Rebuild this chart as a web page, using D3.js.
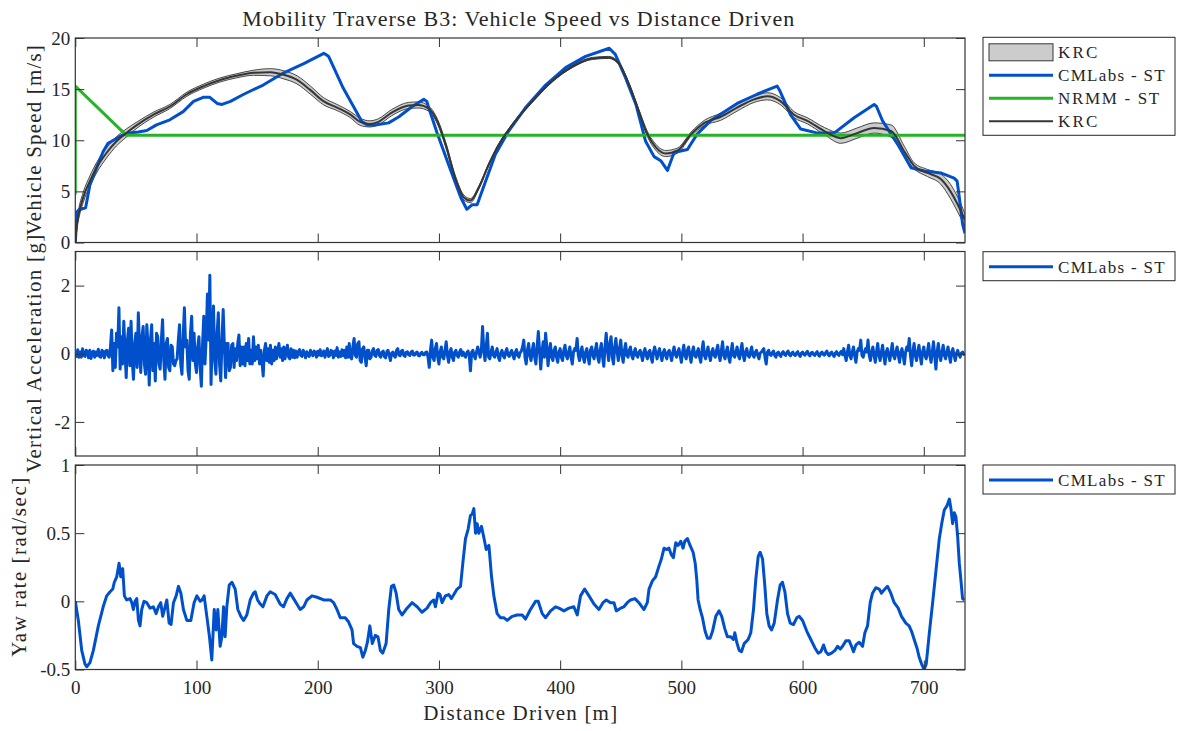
<!DOCTYPE html>
<html>
<head>
<meta charset="utf-8">
<script src="https://cdn.jsdelivr.net/npm/d3@7"></script>
<style>
  html, body { margin: 0; padding: 0; background: #ffffff; }
  svg { display: block; }
</style>
</head>
<body>
<svg id="chart" width="1177" height="731"></svg>
<script>
// ---------------- data ----------------
const xTicks = [0, 100, 200, 300, 400, 500, 600, 700];
const speedTicks = [0, 5, 10, 15, 20];
const accTicks = [-2, 0, 2];
const yawTicks = [-0.5, 0, 0.5, 1];

// KRC measured speed: mean and run-to-run envelope [m/s] vs distance [m]
const krcDist = [0,1,2.5,6.5,12,17.5,26,34,42,51,64.5,78,92,106,119.5,133,147,161,172,183,
  194,205,216,227,235,243,250,261,275,283,291.5,298.5,305.5,313.5,320.5,326,333,341,349.5,360.5,
  377,393.5,410,426.5,440,448.5,457,465,472,479,487,497,508,519,532.5,546,560,571,582,593,
  604,618,631.5,645,659,673,684,692,703,714,722,730.5,734];
const krcMean = [0,1.5,2.6,4.4,6.0,7.3,8.8,9.9,10.7,11.5,12.5,13.3,14.5,15.3,15.9,16.3,16.6,16.65,16.4,15.9,
  14.9,13.8,13.2,12.5,11.8,11.6,11.8,12.7,13.4,13.45,13.1,11.9,9.6,6.3,4.4,4.1,5.4,7.6,9.6,11.5,
  13.8,15.8,17.2,18.0,18.1,17.5,15.4,12.8,10.6,9.3,8.7,9.0,10.6,11.7,12.3,13.2,14.0,14.3,13.8,12.5,
  11.9,10.9,10.2,10.7,11.2,10.9,8.9,7.5,6.8,6.2,5.0,3.1,2.2];
const krcHigh = [0,2.0,3.1,4.9,6.5,7.8,9.3,10.35,11.1,11.8,12.75,13.5,14.7,15.5,16.1,16.5,16.85,17.0,16.8,16.3,
  15.3,14.15,13.5,12.8,12.15,11.9,12.1,13.0,13.7,13.75,13.35,12.15,9.85,6.55,4.65,4.3,5.55,7.7,9.7,11.6,
  13.9,15.9,17.3,18.1,18.2,17.6,15.55,13.0,10.85,9.6,9.0,9.25,10.8,11.95,12.65,13.55,14.3,14.65,14.15,12.8,
  12.2,11.25,10.7,11.2,11.7,11.5,9.4,7.8,7.15,6.7,5.7,3.8,2.8];
const krcLow = [0,1.0,2.1,3.9,5.5,6.8,8.3,9.45,10.3,11.2,12.25,13.1,14.3,15.1,15.7,16.1,16.35,16.3,16.0,15.5,
  14.5,13.45,12.9,12.2,11.45,11.3,11.5,12.4,13.1,13.15,12.85,11.65,9.35,6.05,4.15,3.9,5.25,7.5,9.5,11.4,
  13.7,15.7,17.1,17.9,18.0,17.4,15.25,12.6,10.35,9.0,8.4,8.75,10.4,11.45,11.95,12.85,13.7,13.95,13.45,12.2,
  11.6,10.55,9.7,10.2,10.7,10.3,8.4,7.2,6.45,5.7,4.3,2.4,1.6];

// CMLabs simulation speed [m/s]
const cmSpeedDist = [0,1.5,3,8.5,12,17.5,23,27,30,37,44,52,59,67,78,89,97.5,105.5,111,117,
  121,128,139,155,172,188.5,205,206.5,209,221,236.5,241,247.5,258.5,267,278,287.5,290,291.5,298.5,
  308,318,323,327.5,331.5,338.5,346.5,357.5,371.5,388,404.5,421,440.5,445.5,454,462.5,470.5,477.5,483,488.5,
  494,505,513,524,546,562.5,579,581,590,598.5,612.5,626,642.5,659,661,666,678.5,689.5,700.5,714,
  725,727.5,729,732,734];
const cmSpeed = [0,3.0,3.2,3.4,5.6,7.3,8.9,9.7,9.9,10.4,10.7,10.8,10.95,11.5,12.0,12.8,13.8,14.2,14.2,13.6,
  13.5,13.8,14.5,15.4,16.6,17.5,18.5,18.4,18.2,15.1,11.8,11.5,11.5,11.7,12.3,13.3,14.0,13.8,13.2,10.7,
  7.6,4.4,3.25,3.7,3.7,6.0,8.6,10.9,13.2,15.4,17.1,18.2,19.0,18.4,16.1,13.5,9.9,8.4,8.0,7.05,
  8.8,9.1,10.6,11.9,13.6,14.5,15.3,14.9,12.5,11.1,10.7,10.7,12.2,13.5,13.3,11.9,9.6,7.3,7.0,6.8,
  6.3,6.0,4.7,1.8,0.9];

// NRMM predicted speed [m/s]
const nrmmDist = [0, 0, 42, 734];
const nrmmSpeed = [4.7, 15.3, 10.5, 10.5];

// CMLabs vertical acceleration [g], one sample per accStep metres starting at 0 m
const accStep = 1;
const accValues = [
  // 0-29 m
  0,-0.08,0.12,-0.1,0.05,-0.1,0.15,-0.05,-0.08,0.1,0.06,-0.12,0.1,-0.14,0.04,0.08,-0.1,0.05,-0.05,0.13,
  -0.08,-0.1,0.1,0.06,-0.12,0.08,0.1,-0.06,-0.1,0.2,
  // 30-83 m
  0.7,-0.5,0.3,-0.4,0.6,0.2,1.35,-0.45,0.5,-0.3,0.95,0.1,-0.7,0.4,0.75,-0.35,0.95,-0.2,-0.75,0.3,
  0.6,-0.4,1.2,0.2,-0.55,0.5,0.8,-0.3,-0.6,0.85,0.2,-0.92,0.4,0.85,-0.5,0.3,-0.8,0.6,0.5,-0.3,
  -0.45,0.4,1.0,-0.2,-0.75,0.3,0.45,-0.4,-0.5,0.25,0.2,-0.3,-0.35,-0.2,
  // 84-129 m
  -0.15,0.4,0.85,-0.3,-0.6,0.5,1.35,0.2,0.4,-0.5,-0.75,0.6,1.1,-0.2,0.6,-0.3,-0.55,0.2,0.5,-0.4,
  -0.95,0.3,1.1,-0.3,0.5,1.75,0.4,2.3,-0.9,0.5,1.4,-0.2,-0.6,0.6,1.2,-0.3,-0.8,0.4,1.3,0.2,
  -0.7,0.3,0.3,-0.5,-0.4,0.25,
  // 130-181 m
  0.3,-0.4,0.15,-0.2,0.3,0.55,-0.35,0.2,-0.3,0.2,-0.35,0.3,-0.2,0.45,-0.3,0.1,-0.3,0.5,-0.2,0.2,
  -0.15,0.25,-0.3,0.1,-0.2,-0.65,0.1,0.3,-0.2,0.15,-0.25,0.25,-0.3,0.1,-0.2,0.2,-0.15,0.1,0.3,-0.1,
  0.15,-0.2,0.2,-0.15,0.1,0.25,-0.1,-0.15,0.15,-0.1,0.1,-0.12,
  // 182-225 m
  0.08,-0.1,0.05,0.12,-0.05,-0.08,0.1,0.03,-0.12,0.06,-0.04,-0.08,0.1,0.02,-0.06,0.08,0.05,-0.1,0.07,-0.04,
  0.12,-0.06,-0.04,0.08,-0.1,0.04,0.15,-0.08,-0.05,0.1,0.06,-0.12,0.08,-0.05,0.18,-0.1,0.05,-0.08,0.12,-0.06,
  0.1,-0.12,0.2,-0.1,
  // 226-243 m
  0.3,-0.1,-0.15,0.2,0.45,-0.05,-0.1,0.3,0.35,-0.2,-0.25,0.15,0.2,-0.1,-0.35,0.1,0.1,-0.15,
  // 244-291 m
  -0.1,0.08,0.15,-0.05,-0.08,0.1,0.12,-0.06,-0.1,0.05,0.08,-0.08,-0.12,0.06,0.1,-0.05,-0.2,0.02,0.05,-0.06,
  -0.1,0.1,0.15,-0.04,-0.06,0.08,0.1,-0.05,-0.08,0.04,0.06,-0.03,-0.05,0.05,0.08,-0.04,-0.04,0.03,0.05,-0.05,
  -0.06,0.02,0.04,-0.03,-0.03,0.04,0.05,-0.1,
  // 292-319 m
  -0.4,0.1,0.4,-0.1,-0.2,0.15,0.3,-0.1,-0.3,0.05,0.2,-0.1,-0.15,0.1,0.35,-0.05,-0.25,0.05,0.15,-0.1,
  -0.2,0.05,0.1,-0.05,-0.1,0.05,0.12,-0.05,
  // 320-341 m
  0.05,-0.05,-0.1,0.03,0.08,-0.05,-0.5,0.05,0.1,-0.05,-0.15,0.05,0.2,0.05,-0.1,0.1,0.8,0.1,-0.2,0.2,
  0.6,-0.1,
  // 342-369 m
  -0.15,0.05,0.2,-0.05,-0.1,0.05,0.15,-0.1,-0.2,0.02,0.1,-0.05,-0.12,0.05,0.15,-0.04,-0.08,0.03,0.1,-0.05,
  -0.15,0.04,0.12,-0.05,-0.1,0.03,0.08,0.2,
  // 370-395 m
  0.4,-0.1,-0.3,0.1,0.3,-0.05,-0.2,0.1,0.3,-0.1,-0.3,0.2,0.65,0.1,-0.45,0.05,0.35,-0.1,0.6,0.2,
  -0.35,0.05,0.3,-0.1,-0.2,0.1,
  // 396-431 m
  0.2,-0.1,-0.25,0.05,0.15,-0.1,-0.2,0.1,0.25,-0.05,-0.15,0.05,0.2,-0.1,-0.3,0.05,0.15,0.1,0.45,-0.05,
  -0.2,0.05,0.2,-0.1,-0.25,0.05,0.15,-0.1,-0.3,0.1,0.2,-0.05,-0.15,0.1,0.3,-0.1,
  // 432-461 m
  -0.25,0.1,0.3,-0.1,-0.37,0.2,0.6,0.1,-0.2,0.3,0.5,-0.1,-0.3,0.2,0.45,0.05,-0.2,0.15,0.4,-0.05,
  -0.25,0.1,0.3,-0.05,-0.1,0.1,0.2,-0.05,-0.15,0.05,
  // 462-557 m
  0.15,-0.05,-0.1,0.05,0.1,-0.05,-0.2,0.05,0.15,-0.05,-0.15,0.05,0.1,-0.1,-0.25,0.05,0.2,0.02,-0.15,0.05,
  0.15,-0.05,-0.2,0.03,0.12,-0.05,-0.15,0.05,0.1,-0.05,-0.2,0.05,0.2,-0.02,-0.1,0.05,0.15,-0.05,-0.25,0.05,
  0.25,-0.05,-0.15,0.1,0.2,-0.05,-0.25,0.05,0.2,-0.05,-0.1,0.05,0.15,-0.1,-0.25,0.1,0.35,-0.05,-0.15,0.05,
  0.2,-0.05,-0.2,0.05,0.15,-0.05,-0.1,0.1,0.25,-0.05,-0.2,0.1,0.35,-0.05,-0.15,0.05,0.2,-0.1,-0.25,0.05,
  0.3,-0.05,-0.1,0.05,0.2,-0.05,-0.15,0.1,0.3,-0.05,-0.2,0.05,0.15,-0.05,-0.1,0.05,
  // 558-593 m
  0.2,-0.05,-0.1,0.05,0.1,-0.05,-0.15,0.02,0.05,0.1,0.15,-0.1,-0.3,0.05,0.1,-0.02,-0.05,0.03,0.08,-0.05,
  -0.1,0.02,0.05,-0.03,-0.08,0.02,0.06,-0.02,-0.05,0.03,0.08,-0.02,-0.06,0.02,0.05,-0.03,
  // 594-633 m
  -0.05,0.02,0.06,-0.03,-0.08,0.02,0.05,-0.02,-0.04,0.03,0.07,-0.02,-0.06,0.02,0.04,-0.02,-0.05,0.02,0.06,-0.03,
  -0.07,0.02,0.05,-0.02,-0.04,0.03,0.08,-0.02,-0.06,0.02,0.05,-0.03,-0.08,0.02,0.06,-0.02,-0.05,0.03,0.07,-0.03,
  // 634-657 m
  0.15,-0.05,-0.2,0.05,0.25,-0.05,-0.15,0.05,0.2,-0.05,-0.25,0.05,0.15,0.1,0.4,-0.05,-0.1,0.05,0.15,0.05,
  0.4,-0.05,-0.2,0.05,
  // 658-734 m
  0.2,-0.05,-0.25,0.05,0.3,-0.05,-0.2,0.05,0.25,-0.05,-0.3,0.05,0.15,-0.05,-0.2,0.05,0.3,-0.05,-0.15,0.05,
  0.2,-0.05,-0.25,0.05,0.15,-0.05,-0.3,0.05,0.2,0.1,0.45,-0.05,-0.35,0.05,0.3,-0.05,-0.2,0.05,0.25,-0.05,
  -0.3,0.05,0.2,-0.05,-0.15,0.05,0.3,-0.05,-0.25,0.05,0.35,-0.05,-0.45,0.05,0.3,-0.05,-0.2,0.05,0.25,-0.05,
  -0.15,0.05,0.2,-0.05,-0.25,0.05,0.15,-0.05,-0.2,0.02,0.1,-0.03,-0.1,0.02,0.05,-0.02,0
];

// CMLabs yaw rate [rad/s]
const yawDist = [0,2.5,5.3,8,9.4,12.1,14.9,19,23,25.9,28.7,30.9,32.2,34.2,36.1,37.5,39.1,40.5,42.4,45.2,
  46.6,47.9,49.3,50.7,52.1,53.4,54.8,56.7,59,61.7,64.4,66.7,68.6,70.5,72.1,74.1,75.5,77.4,79,81,
  83.2,85.1,87.1,89.2,92,95.3,98,100.3,103,104.6,106.3,108.5,110.7,112.6,114.6,116.2,117.6,119.5,120.9,122.3,
  123.6,125,127,129.2,131.9,134.1,136.6,138.8,141.5,144.3,147,148.4,150.4,152.6,154.8,158.1,160.8,164.9,169,171.8,
  174.6,177.3,180.1,182.8,185.5,188.4,191.1,195.2,199.4,204.9,210.4,213.1,215.9,218.6,222.7,225.4,228.3,229.6,232.4,235.2,
  237.2,239.3,241,243,245,247.5,249.7,251.7,253.6,256.4,258.6,260.8,262.7,264.7,266.8,269.6,273.7,277.8,282,286,
  290.2,293,295.7,297.1,299.3,300.9,302.6,305.3,308.1,310.3,312.3,315,317.8,319.7,321.9,324.1,326,327.4,328.8,330.2,
  331.5,332.9,335.1,337,339,341.2,343.4,345.3,348,350.8,353.5,356.3,360.4,364.5,368.7,371.4,375.5,379.7,381.9,385.2,
  388,392.1,396.2,399,403.1,407.2,411.3,414.1,416.8,420.2,423.8,427.9,432,435.3,438.1,441.6,444.4,446.3,449.9,452.6,
  455.4,458.1,461.7,465,469.1,471.9,473.3,476.1,478.8,481.6,483.5,485.7,487.9,489.8,491.8,493.4,495.4,497.3,499.5,501.4,
  502.8,505,507.2,509.7,511.4,512.7,513.8,515.5,517.4,519.6,521.5,523.7,525.7,528.4,531.1,533.3,535.8,538,540.7,542.9,
  544.1,545.7,547.7,549.6,551.8,555.1,557.3,559.5,561.4,563.4,565,567,568.9,570.5,572.4,574.4,576.6,579.3,581.5,583.4,
  585.4,587.6,589.8,592.5,595.3,597.2,600,603.5,606.8,610.1,612.9,615.1,617.3,619.2,621.2,623.9,626.7,628.9,631.1,633,
  635.7,638.5,640.4,642,644,646.7,649.5,651.4,653.6,655.8,657.7,660.4,663.2,665.1,667.9,670.1,672.8,675.6,678.9,681.6,
  685.2,687.9,689.9,692.1,694.3,696.2,698.2,700.3,702,704.6,707.3,710.1,712.8,715,716.9,719.1,721.1,722.4,723.8,725.2,
  726.5,727.9,729.3,730.6,732,733.4];
const yawRate = [0,-0.14,-0.36,-0.46,-0.48,-0.45,-0.36,-0.18,-0.04,0.04,0.07,0.09,0.14,0.18,0.28,0.18,0.24,0.04,0.01,0.02,
  -0.01,-0.06,0,0.02,-0.14,-0.18,-0.06,0,-0.01,-0.05,-0.04,-0.09,-0.04,-0.01,-0.11,-0.04,0.01,-0.16,-0.17,-0.01,
  0.04,0.11,0.06,-0.06,-0.14,-0.14,-0.01,0.04,0,0.01,0.04,-0.11,-0.26,-0.43,-0.06,-0.21,-0.06,-0.33,-0.26,-0.04,
  -0.26,-0.04,0.12,0.14,0.09,-0.06,-0.11,-0.14,-0.1,0.01,0.06,0.07,0.01,-0.02,-0.04,0.04,0.07,0.05,-0.02,-0.04,
  0.02,0.06,0.02,-0.02,-0.06,-0.04,0.01,0.04,0.03,0.01,0.01,-0.01,-0.06,-0.12,-0.12,-0.15,-0.21,-0.31,-0.33,-0.34,
  -0.41,-0.36,-0.3,-0.18,-0.31,-0.25,-0.26,-0.36,-0.38,-0.31,-0.06,0.11,0.12,0.06,-0.06,-0.1,-0.05,-0.01,-0.04,-0.08,
  -0.05,-0.01,0.01,-0.04,0.06,0.05,-0.01,0.04,0.05,0.02,0.05,0.09,0.11,0.28,0.46,0.53,0.63,0.64,0.68,0.5,
  0.57,0.5,0.55,0.47,0.38,0.41,0.18,0.04,-0.09,-0.12,-0.12,-0.14,-0.11,-0.1,-0.1,-0.13,-0.06,0,0,-0.09,
  -0.12,-0.07,-0.04,-0.05,-0.07,-0.05,-0.04,-0.1,0.04,0.09,0.04,-0.02,-0.06,-0.01,0.01,-0.01,-0.01,-0.07,-0.05,-0.04,
  -0.01,0.01,0.02,-0.01,-0.06,-0.01,0.09,0.15,0.18,0.26,0.31,0.39,0.38,0.39,0.34,0.32,0.43,0.41,0.44,0.39,
  0.44,0.46,0.41,0.36,0.28,0.16,0.01,-0.06,-0.12,-0.22,-0.27,-0.27,-0.22,-0.11,-0.07,-0.11,-0.2,-0.26,-0.26,-0.28,
  -0.23,-0.3,-0.36,-0.37,-0.31,-0.28,-0.23,-0.06,0.16,0.33,0.36,0.31,0.11,-0.09,-0.18,-0.21,-0.16,0.01,0.12,0.14,
  0.07,-0.09,-0.16,-0.17,-0.12,-0.11,-0.14,-0.22,-0.28,-0.34,-0.38,-0.37,-0.32,-0.37,-0.39,-0.38,-0.36,-0.33,-0.35,-0.33,
  -0.29,-0.29,-0.33,-0.37,-0.32,-0.3,-0.33,-0.23,-0.18,-0.01,0.06,0.1,0.09,0.06,0.09,0.11,0.06,-0.01,-0.05,-0.11,
  -0.16,-0.18,-0.22,-0.28,-0.34,-0.41,-0.46,-0.5,-0.46,-0.23,-0.01,0.23,0.46,0.58,0.67,0.7,0.75,0.68,0.57,0.65,
  0.62,0.48,0.28,0.16,0.02,0.01];

// ---------------- layout & style ----------------
const FONT = '"Liberation Serif", "Times New Roman", serif';
const TEXT = '#262626';
const AXIS = '#333333';
const BLUE = '#0050cc';
const GREEN = '#25b425';
const KRC_FILL = '#cccccc';
const KRC_LINE = '#363636';

const plotLeft = 75.3, plotRight = 965;
const panelTop = [38, 251.5, 465];
const panelH = 204.5;
const tickLen = 9;

const svg = d3.select('#chart');
const defs = svg.append('defs');

const x = d3.scaleLinear().domain([0, 734]).range([plotLeft, plotRight]);
const ySpeed = d3.scaleLinear().domain([0, 20]).range([panelTop[0] + panelH, panelTop[0]]);
const yAcc = d3.scaleLinear().domain([-3, 3]).range([panelTop[1] + panelH, panelTop[1]]);
const yYaw = d3.scaleLinear().domain([-0.5, 1]).range([panelTop[2] + panelH, panelTop[2]]);

function zip(xs, ys) { return xs.map((d, i) => ({ d: d, v: ys[i] })); }

function clipGroup(id, top) {
  defs.append('clipPath').attr('id', id)
    .append('rect').attr('x', plotLeft).attr('y', top)
    .attr('width', plotRight - plotLeft).attr('height', panelH);
  return svg.append('g').attr('clip-path', `url(#${id})`);
}

// ---------------- panel 1: vehicle speed ----------------
const g1 = clipGroup('clip-speed', panelTop[0]);
const krcRows = krcDist.map((d, i) => ({ d: d, m: krcMean[i], lo: krcLow[i], hi: krcHigh[i] }));

g1.append('path').datum(krcRows)
  .attr('d', d3.area().x(r => x(r.d)).y0(r => ySpeed(r.lo)).y1(r => ySpeed(r.hi)).curve(d3.curveMonotoneX))
  .attr('fill', KRC_FILL).attr('stroke', KRC_LINE).attr('stroke-width', 0.9);

const lineSpeed = d3.line().x(p => x(p.d)).y(p => ySpeed(p.v));
g1.append('path').datum(zip(cmSpeedDist, cmSpeed))
  .attr('d', lineSpeed).attr('fill', 'none').attr('stroke', BLUE)
  .attr('stroke-width', 3).attr('stroke-linejoin', 'round');
g1.append('path').datum(zip(nrmmDist, nrmmSpeed))
  .attr('d', lineSpeed).attr('fill', 'none').attr('stroke', GREEN)
  .attr('stroke-width', 3).attr('stroke-linejoin', 'miter');
g1.append('path').datum(krcRows)
  .attr('d', d3.line().x(r => x(r.d)).y(r => ySpeed(r.m)).curve(d3.curveMonotoneX))
  .attr('fill', 'none').attr('stroke', KRC_LINE).attr('stroke-width', 2);

// ---------------- panel 2: vertical acceleration ----------------
const g2 = clipGroup('clip-acc', panelTop[1]);
g2.append('path').datum(accValues.map((v, i) => ({ d: i * accStep, v: v })))
  .attr('d', d3.line().x(p => x(p.d)).y(p => yAcc(p.v)))
  .attr('fill', 'none').attr('stroke', BLUE).attr('stroke-width', 3)
  .attr('stroke-linejoin', 'round');

// ---------------- panel 3: yaw rate ----------------
const g3 = clipGroup('clip-yaw', panelTop[2]);
g3.append('path').datum(zip(yawDist, yawRate))
  .attr('d', d3.line().x(p => x(p.d)).y(p => yYaw(p.v)))
  .attr('fill', 'none').attr('stroke', BLUE).attr('stroke-width', 3)
  .attr('stroke-linejoin', 'round');

// ---------------- axes frames ----------------
function frame(y, yTicks, top, showXLabels) {
  const g = svg.append('g');
  const bottom = top + panelH;
  g.append('g').attr('transform', `translate(0,${bottom})`)
    .call(d3.axisBottom(x).tickValues(xTicks).tickSizeInner(-tickLen).tickSizeOuter(0)
      .tickPadding(11.5).tickFormat(showXLabels ? d3.format('d') : ''));
  g.append('g').attr('transform', `translate(0,${top})`)
    .call(d3.axisTop(x).tickValues(xTicks).tickSizeInner(-tickLen).tickSizeOuter(0).tickFormat(''));
  g.append('g').attr('transform', `translate(${plotLeft},0)`)
    .call(d3.axisLeft(y).tickValues(yTicks).tickSizeInner(-tickLen).tickSizeOuter(0)
      .tickPadding(5).tickFormat(t => String(t)));
  g.append('g').attr('transform', `translate(${plotRight},0)`)
    .call(d3.axisRight(y).tickValues(yTicks).tickSizeInner(-tickLen).tickSizeOuter(0).tickFormat(''));
  g.selectAll('.domain').remove();
  g.selectAll('.tick line').attr('stroke', AXIS).attr('stroke-width', 1);
  g.selectAll('.tick text').attr('font-family', FONT).attr('font-size', 19).attr('fill', TEXT);
  g.append('rect').attr('x', plotLeft).attr('y', top)
    .attr('width', plotRight - plotLeft).attr('height', panelH)
    .attr('fill', 'none').attr('stroke', AXIS).attr('stroke-width', 1.2);
}
frame(ySpeed, speedTicks, panelTop[0], false);
frame(yAcc, accTicks, panelTop[1], false);
frame(yYaw, yawTicks, panelTop[2], true);

// ---------------- titles & labels ----------------
function label(txt, size, width) {
  return svg.append('text').text(txt)
    .attr('font-family', FONT).attr('font-size', size).attr('fill', TEXT)
    .attr('text-anchor', 'middle')
    .attr('textLength', width).attr('lengthAdjust', 'spacing');
}
label('Mobility Traverse B3: Vehicle Speed vs Distance Driven', 22, 552)
  .attr('x', (plotLeft + plotRight) / 2 - 2).attr('y', 26);
label('Distance Driven [m]', 21, 194)
  .attr('x', (plotLeft + plotRight) / 2).attr('y', 720);
label('Vehicle Speed [m/s]', 21, 190)
  .attr('transform', `translate(41,${panelTop[0] + panelH / 2}) rotate(-90)`);
label('Vertical Acceleration [g]', 21, 238)
  .attr('transform', `translate(41,${panelTop[1] + panelH / 2}) rotate(-90)`);
label('Yaw rate [rad/sec]', 21, 179)
  .attr('transform', `translate(26,${panelTop[2] + panelH / 2}) rotate(-90)`);

// ---------------- legends ----------------
const legLeft = 983, legRight = 1175, rowH = 23;
const sampleX0 = 989, sampleX1 = 1053, legTextX = 1058;
const legendWidths = { 'KRC': 39.4, 'CMLabs - ST': 106.7, 'NRMM - ST': 101.2 };

function legend(top, items) {
  const h = items.length * rowH + 6;
  const g = svg.append('g');
  g.append('rect').attr('x', legLeft).attr('y', top).attr('width', legRight - legLeft).attr('height', h)
    .attr('fill', '#ffffff').attr('stroke', TEXT).attr('stroke-width', 1);
  items.forEach((it, i) => {
    const cy = top + 3 + rowH * i + rowH / 2 + 0.5;
    if (it.type === 'patch') {
      g.append('rect').attr('x', sampleX0).attr('y', cy - 8.5).attr('width', sampleX1 - sampleX0).attr('height', 17)
        .attr('fill', KRC_FILL).attr('stroke', KRC_LINE).attr('stroke-width', 1);
    } else {
      g.append('line').attr('x1', sampleX0).attr('x2', sampleX1).attr('y1', cy).attr('y2', cy)
        .attr('stroke', it.color).attr('stroke-width', it.width);
    }
    g.append('text').text(it.name).attr('x', legTextX).attr('y', cy).attr('dy', '0.35em')
      .attr('font-family', FONT).attr('font-size', 17).attr('fill', TEXT)
      .attr('textLength', legendWidths[it.name]).attr('lengthAdjust', 'spacing');
  });
}
legend(37.3, [
  { name: 'KRC', type: 'patch' },
  { name: 'CMLabs - ST', color: BLUE, width: 3 },
  { name: 'NRMM - ST', color: GREEN, width: 3 },
  { name: 'KRC', color: KRC_LINE, width: 2 }
]);
legend(251.7, [{ name: 'CMLabs - ST', color: BLUE, width: 3 }]);
legend(465, [{ name: 'CMLabs - ST', color: BLUE, width: 3 }]);
</script>
</body>
</html>
